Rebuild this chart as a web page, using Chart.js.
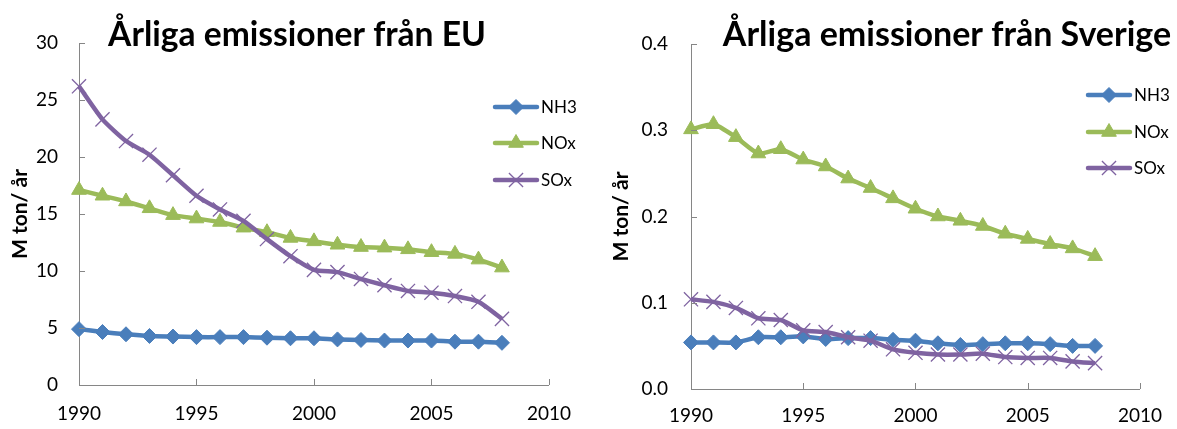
<!DOCTYPE html>
<html>
<head>
<meta charset="utf-8">
<script src="https://cdn.jsdelivr.net/npm/chart.js@4.4.1/dist/chart.umd.min.js"></script>
<style>
  html, body { margin: 0; padding: 0; background: #ffffff; }
  #wrap { position: relative; width: 1177px; height: 429px; overflow: hidden; }
  canvas { position: absolute; top: 0; }
</style>
</head>
<body>
<div id="wrap">
  <canvas id="eu" width="588" height="429" style="left:0"></canvas>
  <canvas id="se" width="589" height="429" style="left:588px"></canvas>
</div>
<script>
// Years on the horizontal axis
const years = [1990, 1991, 1992, 1993, 1994, 1995, 1996, 1997, 1998, 1999,
               2000, 2001, 2002, 2003, 2004, 2005, 2006, 2007, 2008];

// Annual emissions from the EU (million tonnes per year)
const euNH3 = [4.9, 4.65, 4.45, 4.3, 4.25, 4.2, 4.2, 4.2, 4.15, 4.1,
               4.1, 4.0, 3.95, 3.9, 3.9, 3.9, 3.8, 3.8, 3.7];
const euNOx = [17.1, 16.6, 16.1, 15.5, 14.9, 14.6, 14.3, 13.8, 13.4, 12.9,
               12.6, 12.3, 12.1, 12.05, 11.9, 11.65, 11.5, 11.0, 10.3];
const euSOx = [26.2, 23.3, 21.4, 20.2, 18.4, 16.6, 15.4, 14.4, 12.8, 11.3,
               10.1, 9.9, 9.3, 8.75, 8.25, 8.1, 7.8, 7.3, 5.8];

// Annual emissions from Sweden (million tonnes per year)
const seNH3 = [0.054, 0.054, 0.054, 0.060, 0.060, 0.061, 0.058, 0.059, 0.059, 0.057,
               0.056, 0.053, 0.051, 0.052, 0.053, 0.053, 0.052, 0.050, 0.050];
const seNOx = [0.301, 0.307, 0.292, 0.273, 0.278, 0.266, 0.258, 0.244, 0.233, 0.221,
               0.209, 0.200, 0.195, 0.189, 0.180, 0.174, 0.168, 0.163, 0.154];
const seSOx = [0.104, 0.101, 0.094, 0.082, 0.080, 0.068, 0.066, 0.060, 0.056, 0.046,
               0.042, 0.040, 0.040, 0.041, 0.037, 0.036, 0.036, 0.032, 0.030];

// Axis ticks
const xTicks  = [1990, 1995, 2000, 2005, 2010];
const euTicks = [0, 5, 10, 15, 20, 25, 30];
const seTicks = [0, 0.1, 0.2, 0.3, 0.4];

// Text
const seriesNames = ['NH3', 'NOx', 'SOx'];
const euTitle = 'Årliga emissioner från EU';
const seTitle = 'Årliga emissioner från Sverige';
const yTitle = 'M ton/ år';

const FONT = "Lato, 'Open Sans', sans-serif";
const styles = [
  { color: '#4A7EBB', pointStyle: 'rectRot',  radius: 7.5, pointBorderWidth: 1,   order: 3 },
  { color: '#9BBB59', pointStyle: 'triangle', radius: 8.5, pointBorderWidth: 1,   order: 2 },
  { color: '#7F63A1', pointStyle: 'crossRot', radius: 10,  pointBorderWidth: 1.3, order: 1 }
];

function makeDatasets(seriesList) {
  return seriesList.map((vals, i) => ({
    label: seriesNames[i],
    data: years.map((yr, k) => ({ x: yr, y: vals[k] })),
    borderColor: styles[i].color,
    backgroundColor: styles[i].color,
    pointBackgroundColor: styles[i].color,
    pointBorderColor: styles[i].color,
    pointStyle: styles[i].pointStyle,
    pointRadius: styles[i].radius,
    pointBorderWidth: styles[i].pointBorderWidth,
    borderWidth: 4.5,
    tension: 0.2,
    clip: false,
    order: styles[i].order
  }));
}

// Draws the chart heading, the inward tick marks and the side legend
const decorPlugin = {
  id: 'decor',
  afterDraw(chart, args, opts) {
    const ctx = chart.ctx;
    const area = chart.chartArea;
    ctx.save();

    // inward tick marks on both axes
    ctx.strokeStyle = '#868686';
    ctx.lineWidth = 1;
    const xs = chart.scales.x, ys = chart.scales.y;
    xs.ticks.forEach((t, i) => {
      const px = Math.round(xs.getPixelForTick(i)) + 0.5;
      ctx.beginPath();
      ctx.moveTo(px, area.bottom);
      ctx.lineTo(px, area.bottom - 6);
      ctx.stroke();
    });
    ys.ticks.forEach((t, i) => {
      const py = Math.round(ys.getPixelForTick(i)) + 0.5;
      ctx.beginPath();
      ctx.moveTo(area.left, py);
      ctx.lineTo(area.left + 6, py);
      ctx.stroke();
    });

    // heading
    ctx.fillStyle = '#000000';
    ctx.font = 'bold ' + opts.titleSize + 'px ' + FONT;
    ctx.textAlign = 'center';
    ctx.textBaseline = 'alphabetic';
    ctx.fillText(opts.title, opts.titleX, opts.titleY);

    // legend
    chart.data.datasets.forEach((ds, i) => {
      const y = opts.legendY[i];
      ctx.strokeStyle = ds.borderColor;
      ctx.lineWidth = 4.5;
      ctx.lineCap = 'round';
      ctx.beginPath();
      ctx.moveTo(opts.legendX0, y);
      ctx.lineTo(opts.legendX1, y);
      ctx.stroke();
      ctx.lineCap = 'butt';
      ctx.fillStyle = ds.pointBackgroundColor;
      ctx.strokeStyle = ds.pointBorderColor;
      ctx.lineWidth = ds.pointBorderWidth;
      Chart.helpers.drawPoint(ctx, {
        pointStyle: ds.pointStyle,
        radius: ds.pointRadius,
        borderWidth: ds.pointBorderWidth,
        rotation: 0
      }, (opts.legendX0 + opts.legendX1) / 2, y);
      ctx.fillStyle = '#000000';
      ctx.font = '17px ' + FONT;
      ctx.textAlign = 'left';
      ctx.textBaseline = 'middle';
      ctx.fillText(ds.label, opts.legendText, y + 1);
    });
    ctx.restore();
  }
};

function makeChart(id, seriesList, yTickList, cfg) {
  return new Chart(document.getElementById(id), {
    type: 'line',
    data: { datasets: makeDatasets(seriesList) },
    plugins: [decorPlugin],
    options: {
      responsive: false,
      animation: false,
      devicePixelRatio: 1,
      layout: { padding: { left: 0, top: cfg.top, right: cfg.right, bottom: 0 } },
      plugins: {
        legend: { display: false },
        tooltip: { enabled: false },
        title: { display: false },
        decor: cfg.decor
      },
      scales: {
        x: {
          type: 'linear',
          min: xTicks[0],
          max: xTicks[xTicks.length - 1],
          afterBuildTicks: s => { s.ticks = xTicks.map(v => ({ value: v })); },
          afterFit: s => { s.height = cfg.xHeight; },
          grid: { display: false, drawTicks: false },
          border: { display: true, color: '#868686', width: 1 },
          ticks: {
            padding: cfg.xPad,
            color: '#000000',
            font: { family: FONT, size: 19 },
            maxRotation: 0,
            callback: v => String(v)
          }
        },
        y: {
          type: 'linear',
          min: yTickList[0],
          max: yTickList[yTickList.length - 1],
          afterBuildTicks: s => { s.ticks = yTickList.map(v => ({ value: v })); },
          afterFit: s => { s.width = cfg.yWidth; },
          grid: { display: false, drawTicks: false },
          border: { display: true, color: '#868686', width: 1 },
          ticks: {
            padding: cfg.yPad,
            color: '#000000',
            font: { family: FONT, size: 19 },
            callback: cfg.yFmt
          },
          title: {
            display: true,
            text: yTitle,
            color: '#000000',
            font: { family: FONT, size: 21, weight: 'bold' },
            padding: { top: cfg.yTitlePad, bottom: 0 }
          }
        }
      }
    }
  });
}

makeChart('eu', [euNH3, euNOx, euSOx], euTicks, {
  top: 43, right: 29, xHeight: 44, yWidth: 79, xPad: 17, yPad: 21, yTitlePad: 8,
  yFmt: v => String(v),
  decor: {
    title: euTitle, titleSize: 33.6, titleX: 297, titleY: 46,
    legendX0: 495, legendX1: 537, legendText: 541, legendY: [107, 143, 180]
  }
});

makeChart('se', [seNH3, seNOx, seSOx], seTicks, {
  top: 44, right: 33, xHeight: 40, yWidth: 103, xPad: 15, yPad: 23, yTitlePad: 21,
  yFmt: v => Number(v).toFixed(1),
  decor: {
    title: seTitle, titleSize: 34, titleX: 359, titleY: 46,
    legendX0: 500, legendX1: 542, legendText: 546, legendY: [95, 132, 168]
  }
});
</script>
</body>
</html>
